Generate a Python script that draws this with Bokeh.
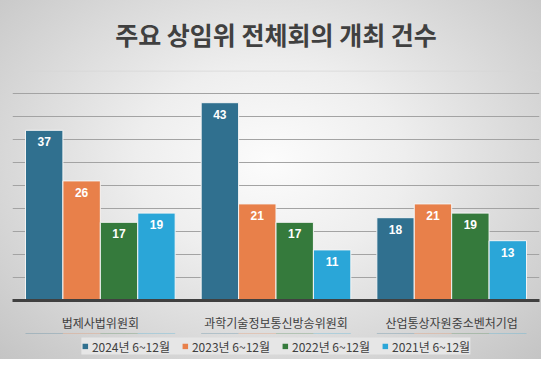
from bokeh.plotting import figure
from bokeh.models import (ColumnDataSource, FactorRange, Range1d, Legend, LegendItem,
                          LabelSet, SingleIntervalTicker, Span)
from bokeh.layouts import column
from bokeh.transform import dodge
from bokeh.core.properties import value
from bokeh.embed import file_html
from bokeh.resources import INLINE

# ---- data ----
categories = ["법제사법위원회", "과학기술정보통신방송위원회", "산업통상자원중소벤처기업"]
series_names = ["2024년 6~12월", "2023년 6~12월", "2022년 6~12월", "2021년 6~12월"]
v2024 = [37, 43, 18]
v2023 = [26, 21, 21]
v2022 = [17, 17, 19]
v2021 = [19, 11, 13]
series_values = [v2024, v2023, v2022, v2021]
colors = ["#30708F", "#E8804A", "#357A3C", "#2AA6D8"]
title_text = "주요 상임위 전체회의 개최 건수"

KR = "Noto Sans CJK KR"
YMAX = 50.0
TITLE_H = 69


def bare(fig):
    fig.border_fill_color = None
    fig.background_fill_color = None
    fig.outline_line_color = None
    fig.axis.visible = False
    fig.grid.visible = False


# title strip
p0 = figure(width=541, height=TITLE_H, x_range=Range1d(0, 1), y_range=Range1d(0, TITLE_H),
            output_backend="svg", toolbar_location=None, min_border=0)
bare(p0)
p0.text(x=[0.5], y=[TITLE_H - 33], text=[title_text], text_align="center",
        text_baseline="middle", text_font=value(KR), text_font_size="25px",
        text_font_style="bold", text_color="#404040")

# main chart
p = figure(width=541, height=264, x_range=FactorRange(*categories),
           y_range=Range1d(0, YMAX), output_backend="svg", toolbar_location=None,
           min_border_left=12, min_border_right=2, min_border_top=1, min_border_bottom=33)
p.border_fill_color = None
p.background_fill_color = None
p.outline_line_color = None

width = 0.213
offsets = [-1.5 * width, -0.5 * width, 0.5 * width, 1.5 * width]

# legend strip
p2 = figure(width=541, height=26, x_range=FactorRange(*categories), y_range=Range1d(0, 1),
            output_backend="svg", toolbar_location=None, min_border=0)
bare(p2)

items = []
for name, vals, col, off in zip(series_names, series_values, colors, offsets):
    src = ColumnDataSource(dict(cat=categories, val=vals, lab=[str(v) for v in vals]))
    p.vbar(x=dodge("cat", off, range=p.x_range), top="val", width=width, source=src,
           fill_color=col, line_color="#f4f4f4", line_width=1)
    ls = LabelSet(x=dodge("cat", off, range=p.x_range), y="val", text="lab", source=src,
                  text_align="center", text_baseline="top", y_offset=-7,
                  text_color="white", text_font=value("Liberation Sans"), text_font_size="12px",
                  text_font_style="bold")
    p.add_layout(ls)
    # zero-height copy, used only for the legend swatch
    lr = p2.vbar(x=dodge("cat", off, range=p2.x_range), top="val", bottom="val", width=width,
                 source=src, fill_color=col, line_color=None)
    items.append(LegendItem(label=name, renderers=[lr]))

p.ygrid.ticker = SingleIntervalTicker(interval=5)
p.ygrid.grid_line_color = "#a3a3a3"
p.ygrid.grid_line_width = 1
p.xgrid.grid_line_color = None
p.yaxis.visible = False

p.add_layout(Span(location=YMAX - 0.1, dimension="width", line_color="#d6d6d6", line_width=1))

ax = p.xaxis[0]
ax.axis_line_color = "#404040"
ax.axis_line_width = 3
ax.major_tick_line_color = None
ax.minor_tick_line_color = None
ax.major_tick_out = 0
ax.major_label_standoff = 13
ax.major_label_text_font = KR
ax.major_label_text_font_size = "12px"
ax.major_label_text_color = "#404040"

legend = Legend(items=items, orientation="horizontal", location="center",
                padding=5, spacing=11, margin=0, label_standoff=4,
                glyph_width=7, glyph_height=7, label_height=14,
                label_text_font=KR, label_text_font_size="12px", label_text_color="#404040",
                background_fill_color="#e6e6e6", background_fill_alpha=1.0,
                border_line_color=None)
p2.add_layout(legend)

layout = column(p0, p, p2, spacing=0)
layout.styles = {"background": "radial-gradient(ellipse farthest-corner at 50% 45%, #fcfcfc 0%, #eeeeee 35%, #c4c4c4 100%)"}

open("out.html", "w").write(file_html(layout, INLINE))
